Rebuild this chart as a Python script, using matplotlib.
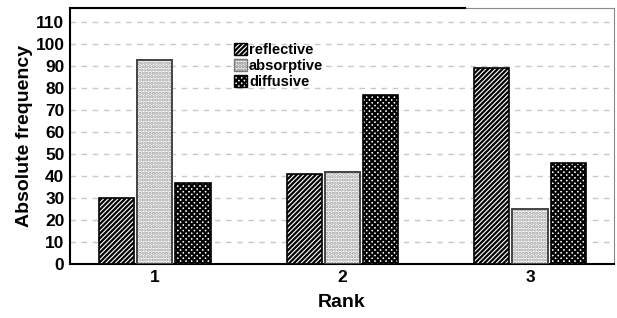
import numpy as np
import matplotlib.pyplot as plt
from matplotlib.patches import Patch

plt.rcParams['font.family'] = ['Liberation Sans', 'DejaVu Sans']
plt.rcParams['hatch.linewidth'] = 1.6

# data
ranks = ['1', '2', '3']
reflective = [30, 41, 89]
absorptive = [93, 42, 25]
diffusive = [37, 77, 46]

x = np.arange(1, 4)
w = 0.187
step = 0.203

fig = plt.figure(figsize=(6.17, 3.18), dpi=100)
ax = fig.add_axes([70 / 617, 1 - 264 / 318, 544 / 617, 256 / 318])

ax.bar(x - step, reflective, w, color='white', edgecolor='black', hatch='///////',
       linewidth=1.2, zorder=3)
# dots in light grey, outline drawn on top in dark grey
ax.bar(x, absorptive, w, color='white', edgecolor='#999999', hatch='.....',
       linewidth=0, zorder=3)
ax.bar(x, absorptive, w, color='none', edgecolor='#444444', linewidth=1.4, zorder=4)
ax.bar(x + step, diffusive, w, color='white', edgecolor='black', hatch='xxxxxx',
       linewidth=1.2, zorder=3)

ax.set_xlim(0.547, 3.448)
ax.set_ylim(0, 116.5)
ax.set_yticks(range(0, 111, 10))
ax.set_xticks(x)
ax.set_xticklabels(ranks)
ax.tick_params(length=0, labelsize=12.5, pad=4)
for lab in ax.get_xticklabels() + ax.get_yticklabels():
    lab.set_fontweight('bold')

ax.yaxis.grid(True, linestyle=(0, (4, 4)), color='#c8c8c8', linewidth=1, zorder=0)
ax.set_axisbelow(True)

for s in ['left', 'bottom']:
    ax.spines[s].set_linewidth(1.5)
ax.spines['right'].set_color('#888888')
ax.spines['top'].set_color('#888888')
ax.plot([0, 0.727], [1, 1], transform=ax.transAxes, color='black', lw=1.5,
        clip_on=False, zorder=5)

ax.set_xlabel('Rank', fontsize=14, fontweight='bold', labelpad=7)
ax.set_ylabel('Absolute frequency', fontsize=14, fontweight='bold', labelpad=2)

# legend handles in the reference order
handles = [
    Patch(facecolor='white', edgecolor='black', hatch='///////', label='reflective'),
    Patch(facecolor='white', edgecolor='#777777', hatch='.....', label='absorptive'),
    Patch(facecolor='white', edgecolor='black', hatch='xxxxxx', label='diffusive'),
]
leg = ax.legend(handles=handles, loc='upper left', bbox_to_anchor=(0.29, 0.885),
                frameon=False, prop={'size': 10.5, 'weight': 'bold'},
                handlelength=0.9, handleheight=0.9, handletextpad=0.15,
                labelspacing=0.12, borderaxespad=0)

fig.savefig('out.png', dpi=100)
